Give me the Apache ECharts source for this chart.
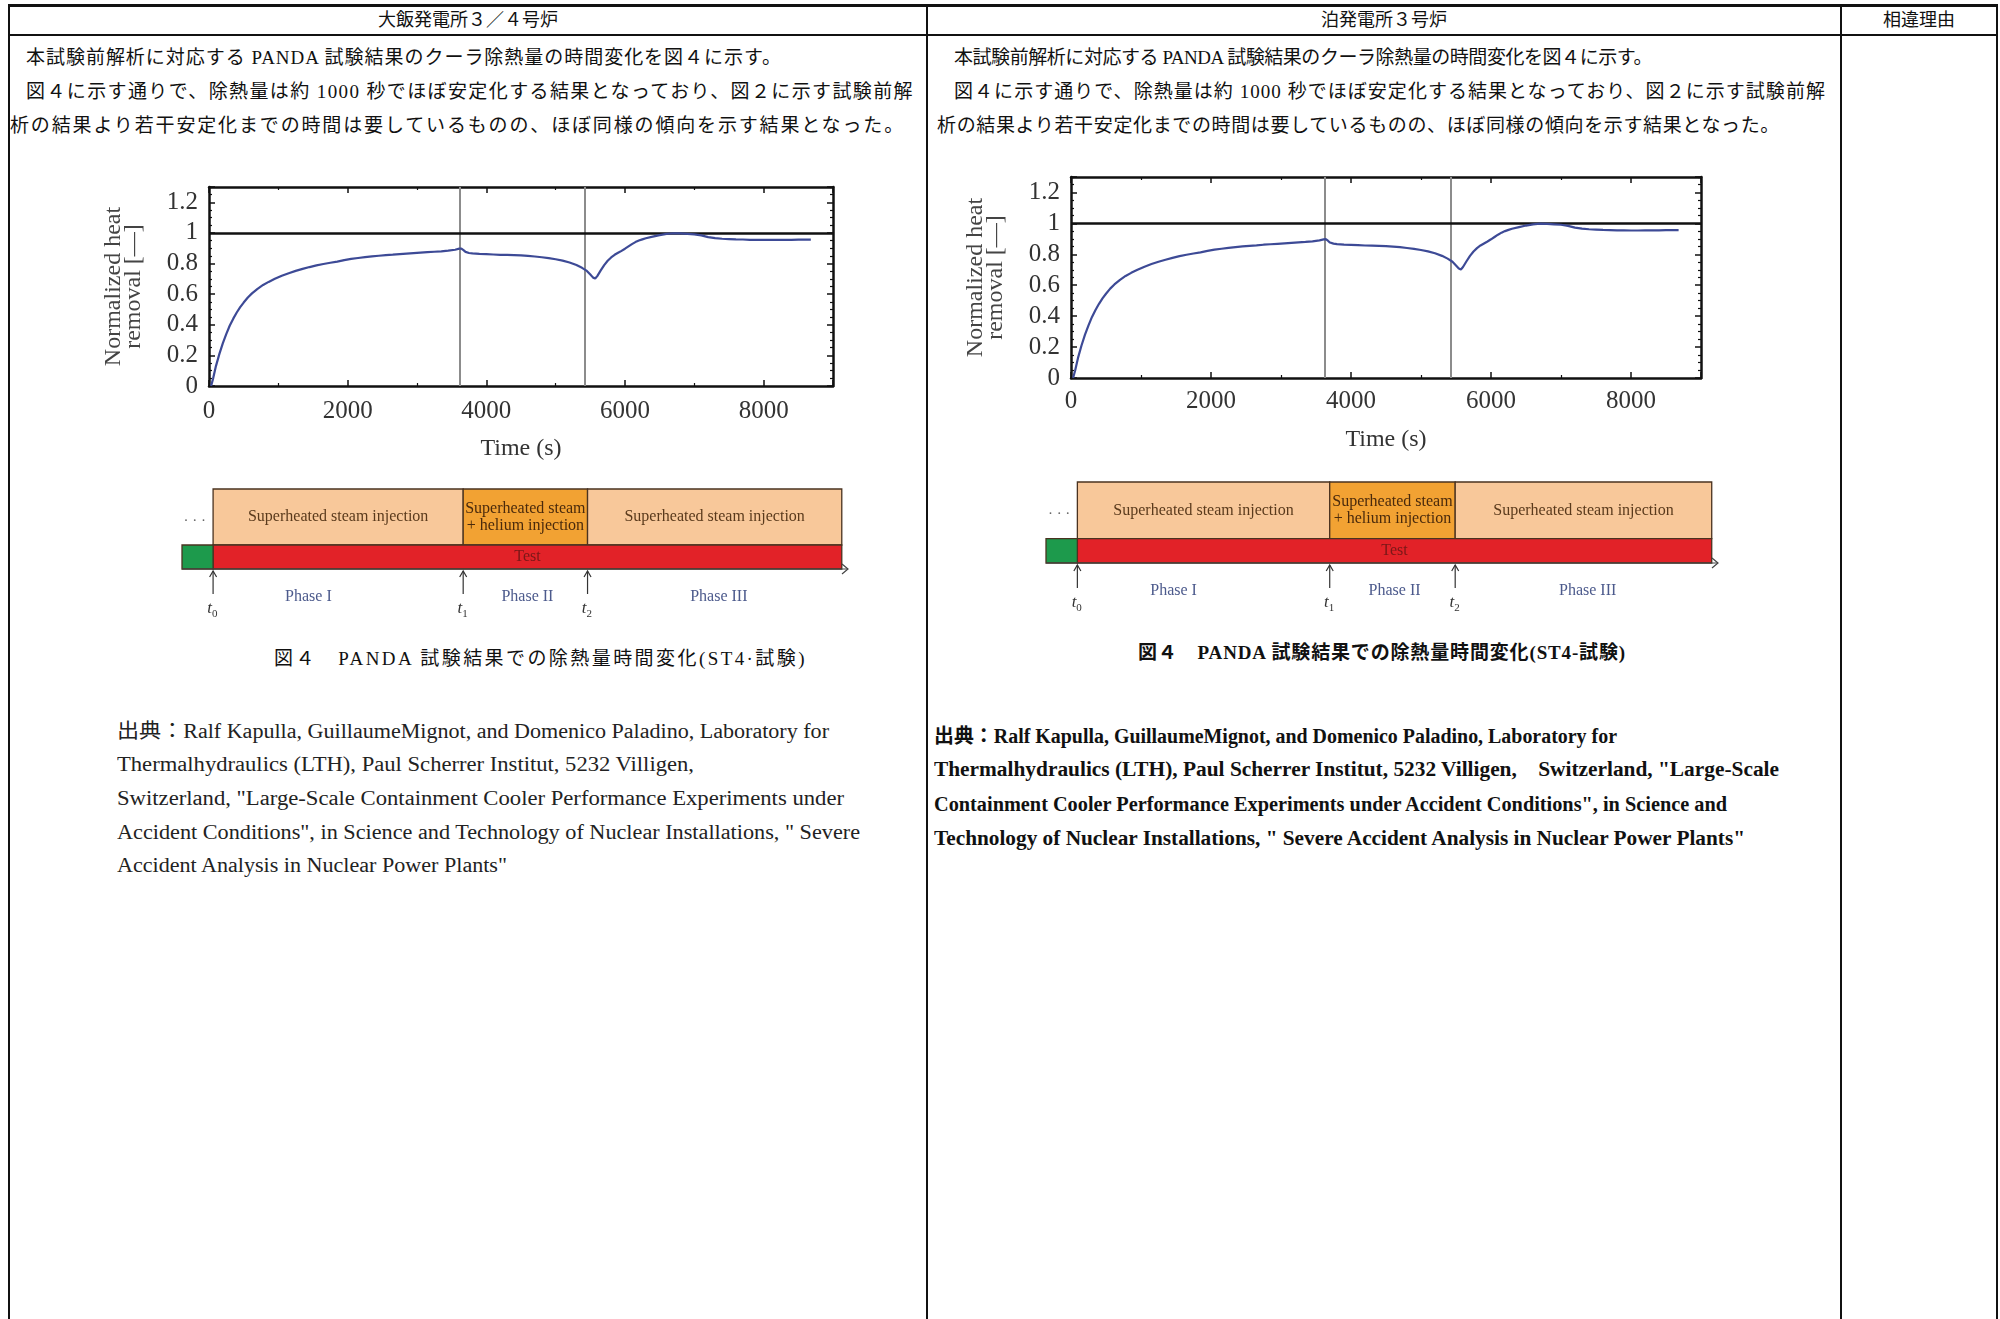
<!DOCTYPE html>
<html><head><meta charset="utf-8">
<script src="https://cdn.jsdelivr.net/npm/echarts@6/dist/echarts.min.js"></script>
<style>
html,body{margin:0;padding:0;background:#fff;}
#page{position:relative;width:2000px;height:1319px;overflow:hidden;background:#fff;}
.ln{position:absolute;background:#111;}
.t{position:absolute;white-space:nowrap;color:#111;font-family:"Liberation Serif","Noto Sans CJK JP",serif;}
#chart{position:absolute;left:0;top:0;width:2000px;height:1319px;z-index:2;pointer-events:none;}
</style></head>
<body><div id="page"><div id="chart"></div></div>
<script>
// ---------- DATA ----------
const timeSec = [30,60,100,150,200,250,300,350,400,450,500,560,620,700,780,860,950,1050,1150,1250,1350,1450,1550,1650,1750,1850,1950,2050,2150,2250,2350,2450,2550,2650,2750,2850,2950,3050,3150,3250,3350,3450,3550,3610,3640,3670,3700,3750,3800,3900,4000,4100,4200,4300,4400,4500,4600,4700,4800,4900,5000,5100,5200,5300,5380,5450,5500,5540,5570,5600,5650,5700,5750,5800,5850,5900,5950,6000,6050,6100,6150,6200,6250,6300,6400,6500,6600,6700,6800,6900,7000,7100,7200,7300,7400,7500,7600,7700,7800,7900,8000,8100,8200,8300,8400,8500,8600,8680];
const heatRemoval = [0,0.05,0.13,0.21,0.28,0.34,0.395,0.44,0.48,0.515,0.545,0.578,0.605,0.635,0.66,0.68,0.70,0.72,0.737,0.752,0.765,0.777,0.788,0.797,0.805,0.813,0.822,0.83,0.836,0.842,0.847,0.851,0.855,0.858,0.862,0.865,0.868,0.871,0.874,0.877,0.88,0.884,0.89,0.897,0.898,0.888,0.876,0.869,0.866,0.863,0.861,0.859,0.857,0.856,0.855,0.853,0.85,0.846,0.841,0.835,0.828,0.819,0.807,0.79,0.772,0.752,0.728,0.708,0.702,0.718,0.755,0.79,0.818,0.84,0.857,0.87,0.883,0.897,0.912,0.927,0.94,0.95,0.958,0.965,0.976,0.986,0.994,0.998,0.997,0.994,0.991,0.984,0.973,0.966,0.962,0.96,0.958,0.957,0.955,0.955,0.954,0.954,0.955,0.955,0.955,0.956,0.956,0.956];
const eventTimes = [3620, 5420];          // t1, t2 (grey lines)
const referenceLevel = 1;                  // black line
const xAxisRange = [0, 9000, 2000];        // min, max, interval
const yAxisRange = [0, 1.3, 0.2];
const phaseStarts = [0, 3620, 5420];
const phaseEnds = [3620, 5420, 9100];
const phaseBoxLabels = ['Superheated steam injection', 'Superheated steam\n+ helium injection', 'Superheated steam injection'];
const phaseKinds = ['steam', 'helium', 'steam'];
const testSpan = [0, 9100];
const preTestSpan = [-450, 0];
const markerTimes = [0, 3620, 5420];
const markerSubs = ['0', '1', '2'];
const phaseNames = ['Phase I', 'Phase II', 'Phase III'];
const phaseNameAt = [1380, 4550, 7320];
const timelineEnd = 9190;

// ---------- LAYOUT (positions / styles) ----------
const page = document.getElementById('page');
function rect(x,y,w,h){const d=document.createElement('div');d.className='ln';d.style.left=x+'px';d.style.top=y+'px';d.style.width=w+'px';d.style.height=h+'px';page.appendChild(d);}
rect(8,4,1990,3); rect(8,34,1990,1.5);
[8,926,1840,1996].forEach(x=>rect(x,4,1.5,1315));

function place(c){
  const d=document.createElement('div'); d.className='t'; d.textContent=c.text;
  d.style.fontSize=c.size+'px'; d.style.lineHeight=Math.round(c.size*1.4)+'px';
  if(c.bold) d.style.fontWeight='bold';
  if(c.color) d.style.color=c.color;
  page.appendChild(d);
  const w=d.getBoundingClientRect().width;
  d.style.top=(c.cy-Math.round(c.size*1.4)/2)+'px';
  if(c.cx!==undefined){ d.style.left=(c.cx-w/2)+'px'; return; }
  d.style.left=c.x+'px';
  if(c.end){
    const target=c.end-c.x;
    if(c.mode==='scale'){ d.style.transformOrigin='0 50%'; d.style.transform='scaleX('+(target/w)+')'; }
    else { const n=[...c.text].length; d.style.letterSpacing=((target-w)/n)+'px'; }
  }
}
const headerTexts=[['大飯発電所３／４号炉',468],['泊発電所３号炉',1384],['相違理由',1919]];
headerTexts.forEach(h=>place({text:h[0],cx:h[1],cy:20,size:18}));

const body1='本試験前解析に対応する PANDA 試験結果のクーラ除熱量の時間変化を図４に示す。';
const body2='図４に示す通りで、除熱量は約 1000 秒でほぼ安定化する結果となっており、図２に示す試験前解';
const body3='析の結果より若干安定化までの時間は要しているものの、ほぼ同様の傾向を示す結果となった。';
[[body1,26,57,782],[body2,26,91,914],[body3,10,125,905],
 [body1,954,57,1652],[body2,954,91,1826],[body3,937,125,1780]].forEach(b=>place({text:b[0],x:b[1],cy:b[2],end:b[3],size:19}));

place({text:'図４　PANDA 試験結果での除熱量時間変化(ST4·試験)',x:274,cy:658,end:807,size:19});
place({text:'図４　PANDA 試験結果での除熱量時間変化(ST4-試験)',x:1138,cy:652,end:1626,size:19,bold:true});

const citeL=['出典：Ralf Kapulla, GuillaumeMignot, and Domenico Paladino, Laboratory for',
 'Thermalhydraulics (LTH), Paul Scherrer Institut, 5232 Villigen,',
 'Switzerland, "Large-Scale Containment Cooler Performance Experiments under',
 'Accident Conditions", in Science and Technology of Nuclear Installations, " Severe',
 'Accident Analysis in Nuclear Power Plants"'];
const citeLy=[731,764,798,832,865], citeLend=[829,694,844,860,507];
citeL.forEach((s,i)=>place({text:s,x:117,cy:citeLy[i],end:citeLend[i],size:20,mode:'scale',color:'#222'}));
const citeR=['出典：Ralf Kapulla, GuillaumeMignot, and Domenico Paladino, Laboratory for',
 'Thermalhydraulics (LTH), Paul Scherrer Institut, 5232 Villigen,　Switzerland, "Large-Scale',
 'Containment Cooler Performance Experiments under Accident Conditions", in Science and',
 'Technology of Nuclear Installations, " Severe Accident Analysis in Nuclear Power Plants"'];
const citeRy=[736,769,804,838], citeRend=[1617,1779,1727,1745];
citeR.forEach((s,i)=>place({text:s,x:934,cy:citeRy[i],end:citeRend[i],size:20,mode:'scale',bold:true}));

// ---------- CHART ----------
const SERIF='Liberation Serif';
const pairs = timeSec.map((t,i)=>[t,heatRemoval[i]]);
const plotGrids=[{left:209,top:187,width:624,height:199},{left:1071,top:177,width:630,height:201}];
const xLabelMargin=[13,11], xNameGap=[51,50];
const diagGrids=[{left:182,top:489,width:666,height:80},{left:1046,top:482,width:672,height:81}];
const frame={lineStyle:{color:'#111',width:2.5}};
function xAx(g,pos,lab){return {gridIndex:g,type:'value',position:pos,min:xAxisRange[0],max:xAxisRange[1],interval:xAxisRange[2],
  axisLine:{show:true,onZero:false,...frame},axisTick:{show:true,inside:true,length:6,lineStyle:{color:'#111',width:1.5}},
  minorTick:{show:true,splitNumber:2,length:3,lineStyle:{color:'#111',width:1.2}},splitLine:{show:false},
  axisLabel:{show:lab,margin:xLabelMargin[g],fontFamily:SERIF,fontSize:25,color:'#333',showMaxLabel:false,formatter:v=>String(v)},
  name:lab?'Time (s)':'',nameLocation:'middle',nameGap:xNameGap[g],nameTextStyle:{fontFamily:SERIF,fontSize:24,color:'#333'}};}
function yAx(g,pos,lab){return {gridIndex:g,type:'value',position:pos,min:yAxisRange[0],max:yAxisRange[1],interval:yAxisRange[2],
  axisLine:{show:true,onZero:false,...frame},axisTick:{show:true,inside:true,length:6,lineStyle:{color:'#111',width:1.5}},
  minorTick:{show:true,splitNumber:4,length:3,lineStyle:{color:'#111',width:1.2}},splitLine:{show:false},
  axisLabel:{show:lab,margin:11,fontFamily:SERIF,fontSize:25,color:'#333',showMaxLabel:false,formatter:v=>String(+v.toFixed(1))},
  name:lab?'Normalized heat\nremoval [—]':'',nameLocation:'middle',nameGap:65,nameRotate:90,
  nameTextStyle:{fontFamily:SERIF,fontSize:24,lineHeight:20,color:'#444'}};}

const xAxes=[], yAxes=[], series=[];
plotGrids.forEach((g,i)=>{
  xAxes.push(xAx(i,'bottom',true)); xAxes.push(xAx(i,'top',false));
  yAxes.push(yAx(i,'left',true)); yAxes.push(yAx(i,'right',false));
  series.push({type:'line',xAxisIndex:2*i,yAxisIndex:2*i,data:pairs,showSymbol:false,symbol:'none',
    lineStyle:{color:'#3d4a96',width:2.2},z:3,
    markLine:{silent:true,symbol:'none',label:{show:false},z:2,
      data:[...eventTimes.map(t=>({xAxis:t,lineStyle:{color:'#8c8c8c',width:2,type:'solid'}})),
            {yAxis:referenceLevel,lineStyle:{color:'#111',width:2.5,type:'solid'}}]}});
});
const ROW={testLo:0,testHi:3,boxLo:3,boxHi:10};
const fills={steam:'#f8c89a',helium:'#f2a233'};
diagGrids.forEach((g,j)=>{
  const gi=2+j;
  xAxes.push({gridIndex:gi,type:'value',min:preTestSpan[0],max:timelineEnd,show:false});
  yAxes.push({gridIndex:gi,type:'value',min:0,max:10,show:false});
  const xi=xAxes.length-1, yi=yAxes.length-1;
  const boxData=[];
  phaseStarts.forEach((s,i)=>boxData.push([s,phaseEnds[i],ROW.boxLo,ROW.boxHi,i,'phase']));
  boxData.push([testSpan[0],testSpan[1],ROW.testLo,ROW.testHi,0,'test']);
  boxData.push([preTestSpan[0],preTestSpan[1],ROW.testLo,ROW.testHi,0,'pre']);
  series.push({type:'custom',xAxisIndex:xi,yAxisIndex:yi,clip:false,data:boxData,z:5,
    renderItem:(p,api)=>{
      const d=boxData[p.dataIndex];
      const a=api.coord([d[0],d[3]]), b=api.coord([d[1],d[2]]);
      const shape={x:a[0],y:a[1],width:b[0]-a[0],height:b[1]-a[1]};
      let fill,text='',tc='#5a3a1c';
      if(d[5]==='phase'){fill=fills[phaseKinds[d[4]]];text=phaseBoxLabels[d[4]];if(phaseKinds[d[4]]==='helium')tc='#4a2a0c';}
      else if(d[5]==='test'){fill='#e22228';text='Test';tc='#7a1818';}
      else fill='#1d9a4c';
      return {type:'rect',shape,style:{fill,stroke:'#4a3320',lineWidth:1.3},
        textContent:{style:{text,fill:tc,fontFamily:SERIF,fontSize:16,lineHeight:17,align:'center',verticalAlign:'middle'}},
        textConfig:{position:'inside'}};
    }});
  const mk=markerTimes.map((t,i)=>[t,i]);
  series.push({type:'custom',xAxisIndex:xi,yAxisIndex:yi,clip:false,data:mk,z:6,
    renderItem:(p,api)=>{
      const i=p.dataIndex; const c=api.coord([markerTimes[i],0]); const x=c[0], yb=c[1];
      const ch=[
        {type:'line',shape:{x1:x,y1:yb+2,x2:x,y2:yb+25},style:{stroke:'#333',lineWidth:1.2}},
        {type:'polyline',shape:{points:[[x-3.5,yb+8],[x,yb+2],[x+3.5,yb+8]]},style:{stroke:'#333',fill:null,lineWidth:1.2}},
        {type:'text',style:{x:x-1,y:yb+40,text:'t',fontFamily:SERIF,fontStyle:'italic',fontSize:17,fill:'#333',align:'right',verticalAlign:'middle'}},
        {type:'text',style:{x:x-1,y:yb+45,text:markerSubs[i],fontFamily:SERIF,fontSize:11,fill:'#333',align:'left',verticalAlign:'middle'}}
      ];
      const pc=api.coord([phaseNameAt[i],0]);
      ch.push({type:'text',style:{x:pc[0],y:yb+28,text:phaseNames[i],fontFamily:SERIF,fontSize:16,fill:'#4c5a8c',align:'center',verticalAlign:'middle'}});
      if(i===0){
        const l=api.coord([preTestSpan[0],0]), r=api.coord([timelineEnd,0]);
        ch.push({type:'line',shape:{x1:l[0],y1:yb,x2:r[0],y2:yb},style:{stroke:'#444',lineWidth:1.2}});
        ch.push({type:'polyline',shape:{points:[[r[0]-6,yb-5],[r[0],yb],[r[0]-6,yb+5]]},style:{stroke:'#444',fill:null,lineWidth:1.2}});
        const dm=api.coord([0,(ROW.boxLo+ROW.boxHi)/2]);
        ch.push({type:'text',style:{x:dm[0]-7,y:dm[1]+4,text:'· · ·',fontFamily:SERIF,fontSize:15,fill:'#666',align:'right',verticalAlign:'middle'}});
      }
      return {type:'group',children:ch};
    }});
});

const chart=echarts.init(document.getElementById('chart'),null,{renderer:'canvas'});
chart.setOption({animation:false,backgroundColor:'transparent',
  grid:[...plotGrids,...diagGrids].map(g=>({...g,containLabel:false})),
  xAxis:xAxes,yAxis:yAxes,series});
</script></body></html>
